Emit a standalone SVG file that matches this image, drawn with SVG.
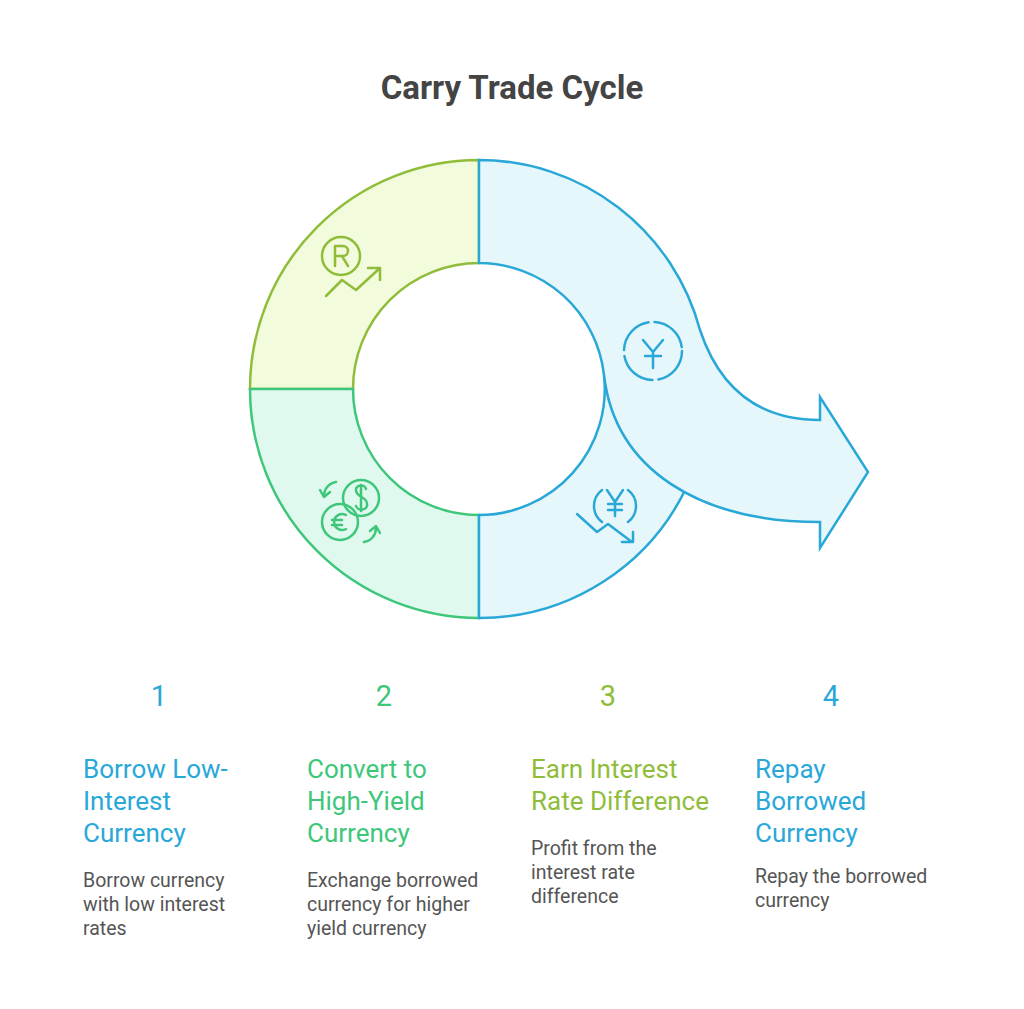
<svg xmlns="http://www.w3.org/2000/svg" width="1024" height="1009" viewBox="0 0 1024 1009">
<style>
.t{font-family:Roboto,"Liberation Sans",sans-serif}
.h{font-size:26px}
.b{font-size:19.5px;fill:#555}
.n{font-size:29px}
.ic{fill:none;stroke-width:2.5;stroke-linecap:round;stroke-linejoin:round}
</style>
<rect width="1024" height="1009" fill="#fff"/>
<text class="t" x="512" y="99" text-anchor="middle" font-size="33" font-weight="bold" fill="#444">Carry Trade Cycle</text>
<g id="seg-yellow">
<path d="M479,160 L479,263 A126,126 0 0 0 353,389 L250,389 A229,229 0 0 1 479,160 Z" fill="#f2fbdc" stroke="#8fbd3a" stroke-width="2.5"/>
<g class="ic" stroke="#8fbd3a"><circle cx="341" cy="256" r="19"/><path d="M335,266 V246 H343 A5,5 0 0 1 343,256 H335 M342,256 L348,266"/><path d="M326,296 L342,280 L356,290 L380,268 M368,268 H380 V280"/></g>
</g>
<g id="seg-green">
<path d="M250,389 L353,389 A126,126 0 0 0 479,515 L479,618 A229,229 0 0 1 250,389 Z" fill="#e0f9ee" stroke="#3ec77a" stroke-width="2.5"/>
<g class="ic" stroke="#3ec77a"><circle cx="361" cy="498" r="18"/><circle cx="340" cy="522" r="18"/><path d="M366,489 A5,4 0 0 0 356,490 C356,498 367,496 367,504 A5,4 0 0 1 356,506 M361,485 V511"/><path d="M346,515 A8,8 0 1 0 346,529 M332,520 H342 M332,525 H342"/><path d="M336,482 A14,14 0 0 0 324,496 M320,490 L324,497 L330,492"/><path d="M364,542 A14,14 0 0 0 376,528 M380,533 L376,526 L370,531"/></g>
</g>
<g id="seg-blue">
<path d="M479,515 L479,618 A229,229 0 0 0 688,484 C 640,450 610,420 604,375 A126,126 0 0 1 479,515 Z" fill="#e6f7fc" stroke="#29a8d8" stroke-width="2.5"/>
<path d="M479,160 A229,229 0 0 1 700,330 C 720,390 760,420 820,420 L820,397 L868,472 L820,548 L820,522 C 700,522 615,470 604,375 A126,126 0 0 0 479,263 Z" fill="#e6f7fc" stroke="#29a8d8" stroke-width="2.5"/>
<g class="ic" stroke="#29a8d8"><circle cx="653" cy="351" r="29" stroke-dasharray="40 6"/><path d="M643,340 L653,352 L663,340 M653,352 V368 M645,356 H661"/>
<path d="M602,490 A20,20 0 0 0 602,522 M628,490 A20,20 0 0 1 628,522"/><path d="M607,490 L615,502 L623,490 M615,502 V516 M608,504 H622 M608,510 H622"/><path d="M577,514 L597,532 L608,524 L632,542 M622,542 H633 V532"/></g>
</g>
<g id="step1" class="t">
<text class="n" x="159" y="706" text-anchor="middle" fill="#29a8d8">1</text>
<text class="h" fill="#29a8d8"><tspan x="83" y="778">Borrow Low-</tspan><tspan x="83" y="810">Interest</tspan><tspan x="83" y="842">Currency</tspan></text>
<text class="b"><tspan x="83" y="887">Borrow currency</tspan><tspan x="83" y="911">with low interest</tspan><tspan x="83" y="935">rates</tspan></text>
</g>
<g id="step2" class="t">
<text class="n" x="384" y="706" text-anchor="middle" fill="#3ec77a">2</text>
<text class="h" fill="#3ec77a"><tspan x="307" y="778">Convert to</tspan><tspan x="307" y="810">High-Yield</tspan><tspan x="307" y="842">Currency</tspan></text>
<text class="b"><tspan x="307" y="887">Exchange borrowed</tspan><tspan x="307" y="911">currency for higher</tspan><tspan x="307" y="935">yield currency</tspan></text>
</g>
<g id="step3" class="t">
<text class="n" x="608" y="706" text-anchor="middle" fill="#8fbd3a">3</text>
<text class="h" fill="#8fbd3a"><tspan x="531" y="778">Earn Interest</tspan><tspan x="531" y="810">Rate Difference</tspan></text>
<text class="b"><tspan x="531" y="855">Profit from the</tspan><tspan x="531" y="879">interest rate</tspan><tspan x="531" y="903">difference</tspan></text>
</g>
<g id="step4" class="t">
<text class="n" x="831" y="706" text-anchor="middle" fill="#29a8d8">4</text>
<text class="h" fill="#29a8d8"><tspan x="755" y="778">Repay</tspan><tspan x="755" y="810">Borrowed</tspan><tspan x="755" y="842">Currency</tspan></text>
<text class="b"><tspan x="755" y="883">Repay the borrowed</tspan><tspan x="755" y="907">currency</tspan></text>
</g>
</svg>
